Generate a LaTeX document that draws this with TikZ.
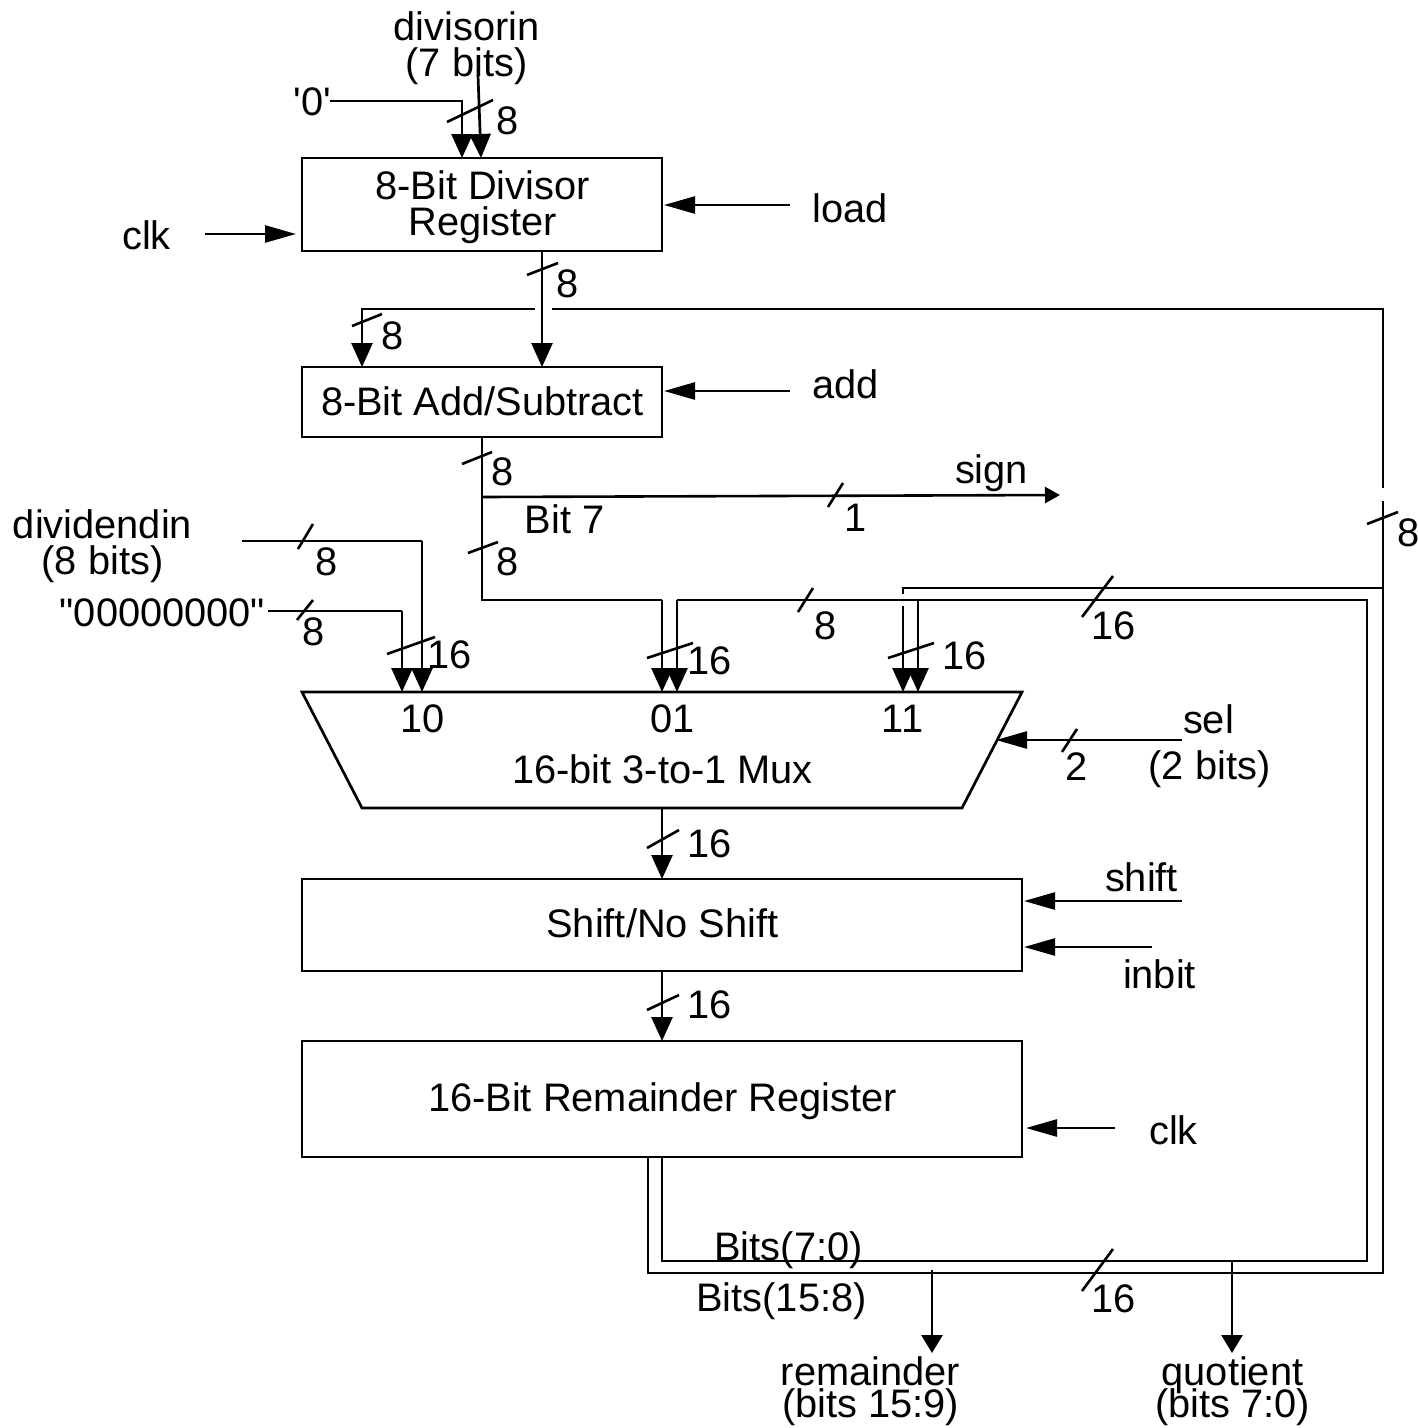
\documentclass[tikz,border=0pt]{standalone}
\usepackage{fontspec}
\newfontfamily\plainf{Liberation Sans}
\usetikzlibrary{arrows.meta}
\tikzset{
  lbl/.style={anchor=base,inner sep=0pt,outer sep=0pt,xshift=0.5pt,yshift=-1pt,font=\plainf\fontsize{39.8}{40}\selectfont},
  blk/.style={draw,line width=2.7pt,inner sep=0pt,outer sep=0pt},
  wire/.style={line width=2.7pt,line join=miter},
  tick/.style={line width=2.6pt},
  big/.style={wire,-{Triangle[length=24pt,width=21pt]}},
  mid/.style={line width=2.6pt,-{Triangle[length=31pt,width=17pt]}},
  small/.style={line width=2.6pt,-{Triangle[length=15pt,width=16pt]}},
  outarrow/.style={line width=2.6pt,-{Triangle[length=18pt,width=21pt]}}
}
\newcommand\lab[4]{\node[lbl] (#1) at (#2,#3) {#4};}
\newcommand\pt[3]{\coordinate (#1) at (#2,#3);}
\newcommand\tk[4]{\draw[tick] (#1,#2) -- (#3,#4);}
\begin{document}
\begin{tikzpicture}[x=1pt,y=-1pt]
\useasboundingbox (0,0) rectangle (1418,1428);
% blocks
\node[blk,minimum width=360pt,minimum height=93pt] (div) at (482,204.5) {};
\node[blk,minimum width=360pt,minimum height=70pt] (adder) at (482,402) {};
\node[minimum width=720pt,minimum height=116pt,inner sep=0pt,outer sep=0pt] (mux) at (662,750) {};
\draw[wire,line join=miter] (mux.north west) -- (mux.north east) -- ([xshift=-60pt]mux.south east) -- ([xshift=60pt]mux.south west) -- cycle;
\node[blk,minimum width=720pt,minimum height=92pt] (shifter) at (662,925) {};
\node[blk,minimum width=720pt,minimum height=116pt] (rem) at (662,1099) {};
% labels
\lab{tdivin}{466}{39}{divisorin}
\lab{tdivb}{466}{75}{(7 bits)}
\lab{tzero}{312}{114}{'0'}
\lab{t8a}{507}{133}{8}
\lab{tdiva}{482}{198}{8-Bit Divisor}
\lab{tdivc}{482}{234}{Register}
\lab{tload}{850}{221}{load}
\lab{tclka}{146}{248}{clk}
\lab{t8b}{567}{296}{8}
\lab{t8c}{392}{348}{8}
\lab{tadd}{482}{414}{8-Bit Add/Subtract}
\lab{taddin}{845}{397}{add}
\lab{t8d}{502}{484}{8}
\lab{tsign}{991}{482}{sign}
\lab{tbit}{564}{532}{Bit 7}
\lab{t1}{855}{530}{1}
\lab{tdvd}{102}{537}{dividendin}
\lab{tdvdb}{102}{573}{(8 bits)}
\lab{t8e}{326}{574}{8}
\lab{tzeros}{162}{625}{"00000000"}
\lab{t8f}{313}{644}{8}
\lab{t8g}{507}{574}{8}
\lab{t8h}{825}{638}{8}
\lab{t16a}{1113}{638}{16}
\lab{t16b}{449}{667}{16}
\lab{t16c}{709}{673}{16}
\lab{t16d}{964}{668}{16}
\lab{t8i}{1408}{545}{8}
\lab{t10}{422}{731}{10}
\lab{t01}{672}{731}{01}
\lab{t11}{902}{731}{11}
\lab{tmux}{662}{782}{16-bit 3-to-1 Mux}
\lab{tsel}{1208}{732}{sel}
\lab{tselb}{1209}{778}{(2 bits)}
\lab{t2}{1076}{779}{2}
\lab{t16e}{709}{856}{16}
\lab{tshift}{662}{936}{Shift/No Shift}
\lab{tshin}{1141}{890}{shift}
\lab{tinbit}{1159}{987}{inbit}
\lab{t16f}{709}{1017}{16}
\lab{trem}{662}{1110}{16-Bit Remainder Register}
\lab{tclkb}{1173}{1143}{clk}
\lab{tb70}{788}{1259}{Bits(7:0)}
\lab{tb158}{781}{1310}{Bits(15:8)}
\lab{t16g}{1113}{1311}{16}
\lab{trout}{870}{1384}{remainder}
\lab{troutb}{870}{1416}{(bits 15:9)}
\lab{tqout}{1232}{1384}{quotient}
\lab{tqoutb}{1232}{1416}{(bits 7:0)}
% junction points
\pt{z0}{330}{101}\pt{z1}{462}{101}
\pt{dv0}{478}{75}\pt{dv1}{481}{158}
\pt{ca}{205}{234}\pt{cb}{296}{234}
\pt{la}{790}{205}\pt{lb}{664}{205}
\pt{aa}{790}{391}\pt{ab}{664}{391}
\pt{j542}{542}{309}\pt{g1}{535}{309}\pt{g2}{552}{309}\pt{j362}{362}{309}
\pt{rt}{1383}{309}\pt{rg1}{1383}{488}\pt{rg2}{1383}{501}
\pt{rb}{1383}{1273}\pt{lb2}{648}{1273}
\pt{o}{482}{497}\pt{s}{1060}{495}
\pt{m0}{482}{600}\pt{m1}{662}{600}
\pt{n0}{677}{600}\pt{n1}{1367}{600}\pt{n2}{1367}{1261}\pt{n3}{662}{1261}
\pt{u0}{903}{588}\pt{u1}{1383}{588}\pt{u2}{903}{594}\pt{u3}{903}{606}
\pt{v0}{918}{600}
\pt{d0}{242}{541}\pt{d1}{422}{541}
\pt{e0}{268}{611}\pt{e1}{402}{611}
\pt{sa}{1182}{740}\pt{sb}{996}{740}
\pt{ha}{1182}{901}\pt{hb}{1024}{901}
\pt{ia}{1152}{947}\pt{ib}{1024}{947}
\pt{ka}{1115}{1128}\pt{kb}{1026}{1128}
\pt{ra}{932}{1270}\pt{rz}{932}{1353}
\pt{qa}{1232}{1261}\pt{qz}{1232}{1353}
% connectors
\draw[big] (z0) -- (z1) -- (z1 |- div.north);
\draw[big] (dv0) -- (dv1);
\draw[mid] (ca) -- (cb);
\draw[mid] (la) -- (lb);
\draw[mid] (aa) -- (ab);
\draw[big] (div.south -| j542) -- (adder.north -| j542);
\draw[big] (g1) -- (j362) -- (adder.north -| j362);
\draw[wire] (g2) -- (rt) -- (rg1);
\draw[wire] (rg2) -- (rb) -- (lb2) -- (rem.south -| lb2);
\draw[wire] (adder.south) -- (m0) -- (m1);
\draw[big] (m1) -- (mux.north -| m1);
\draw[small] (o) -- (s);
\draw[big] (n0) -- (mux.north -| n0);
\draw[wire] (n0) -- (n1) -- (n2) -- (n3) -- (rem.south -| n3);
\draw[wire] (u2) -- (u0) -- (u1);
\draw[big] (u3) -- (mux.north -| u3);
\draw[big] (v0) -- (mux.north -| v0);
\draw[wire] (d0) -- (d1);
\draw[big] (d1) -- (mux.north -| d1);
\draw[wire] (e0) -- (e1);
\draw[big] (e1) -- (mux.north -| e1);
\draw[mid] (sa) -- (sb);
\draw[big] (mux.south) -- (shifter.north);
\draw[big] (shifter.south) -- (rem.north);
\draw[mid] (ha) -- (hb);
\draw[mid] (ia) -- (ib);
\draw[mid] (ka) -- (kb);
\draw[outarrow] (ra) -- (rz);
\draw[outarrow] (qa) -- (qz);
% bus ticks
\tk{447}{122}{493}{100}
\tk{527}{275}{558}{263}
\tk{352}{326}{382}{314}
\tk{462}{464}{492}{452}
\tk{468}{553}{498}{542}
\tk{828}{507}{843}{483}
\tk{298}{549}{313}{524}
\tk{297}{620}{313}{600}
\tk{387}{654}{435}{637}
\tk{647}{658}{693}{643}
\tk{888}{658}{934}{643}
\tk{798}{612}{813}{588}
\tk{1082}{617}{1113}{576}
\tk{1082}{1291}{1113}{1249}
\tk{1062}{752}{1077}{729}
\tk{647}{848}{679}{830}
\tk{647}{1010}{679}{995}
\tk{1367}{524}{1398}{512}
\end{tikzpicture}
\end{document}
